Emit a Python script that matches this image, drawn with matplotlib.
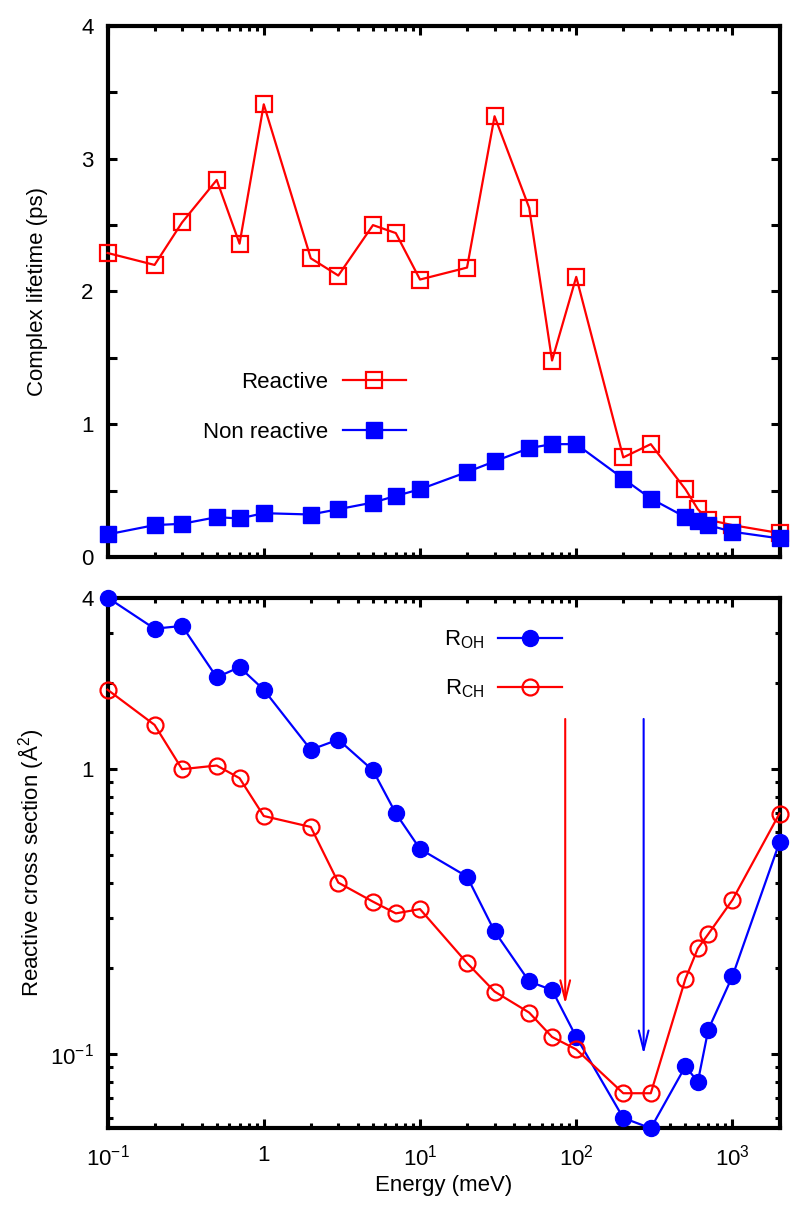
import matplotlib
matplotlib.use('Agg')
import matplotlib.pyplot as plt
from matplotlib.ticker import FixedLocator, NullFormatter, FixedFormatter, MultipleLocator, LogLocator

plt.rcParams['font.family'] = ['Liberation Sans', 'DejaVu Sans']
plt.rcParams['mathtext.fontset'] = 'custom'
plt.rcParams['mathtext.rm'] = 'Liberation Sans'
plt.rcParams['mathtext.it'] = 'Liberation Sans:italic'
plt.rcParams['mathtext.bf'] = 'Liberation Sans:bold'
plt.rcParams['mathtext.default'] = 'regular'

# ---------------- data ----------------
energy = [0.1, 0.2, 0.3, 0.5, 0.7, 1, 2, 3, 5, 7, 10, 20, 30, 50, 70, 100,
          200, 300, 500, 600, 700, 1000, 2000]
lifetime_reactive = [2.29, 2.20, 2.52, 2.84, 2.36, 3.41, 2.25, 2.12, 2.50, 2.44,
                     2.09, 2.18, 3.32, 2.63, 1.48, 2.11, 0.75, 0.85, 0.51, 0.36,
                     0.28, 0.24, 0.18]
lifetime_nonreactive = [0.17, 0.24, 0.25, 0.30, 0.29, 0.33, 0.32, 0.36, 0.41, 0.46,
                        0.51, 0.64, 0.72, 0.82, 0.85, 0.85, 0.59, 0.44, 0.30, 0.27,
                        0.24, 0.19, 0.14]
sigma_oh = [4.0, 3.11, 3.18, 2.10, 2.28, 1.90, 1.17, 1.27, 0.99, 0.70, 0.525,
            0.42, 0.27, 0.18, 0.168, 0.115, 0.0598, 0.055, 0.0908, 0.080, 0.122,
            0.188, 0.554]
sigma_ch = [1.90, 1.43, 1.00, 1.03, 0.93, 0.685, 0.627, 0.40, 0.343, 0.312,
            0.323, 0.209, 0.166, 0.140, 0.115, 0.104, 0.073, 0.073, 0.184, 0.235,
            0.264, 0.348, 0.699]
arrow_energy = [85, 270]
arrow_top = [1.5, 1.5]
arrow_tip = [0.15, 0.1]
arrow_colors = ['#ff0000', '#0000ff']

x_ticks = [0.1, 1, 10, 100, 1000]
x_ticklabels = ['10$^{-1}$', '1', '10$^{1}$', '10$^{2}$', '10$^{3}$']
y1_ticks = [0, 1, 2, 3, 4]
y1_ticklabels = ['0', '1', '2', '3', '4']
y2_ticks = [0.1, 1, 4]
y2_ticklabels = ['10$^{-1}$', '1', '4']

RED = '#ff0000'
BLUE = '#0000ff'
FS = 16
TFS = 16

fig = plt.figure(figsize=(8, 12.14), dpi=100)
ax1 = fig.add_axes([0.1344, 0.5412, 0.84, 0.4374])
ax2 = fig.add_axes([0.1344, 0.0706, 0.84, 0.4372])

for ax in (ax1, ax2):
    ax.set_xscale('log')
    ax.set_xlim(0.1, 2000)
    for s in ax.spines.values():
        s.set_linewidth(3.0)
    ax.xaxis.set_major_locator(FixedLocator(x_ticks))
    ax.xaxis.set_minor_locator(LogLocator(base=10, subs=[2, 3, 4, 5, 6, 7, 8, 9], numticks=20))
    ax.xaxis.set_minor_formatter(NullFormatter())
    ax.tick_params(which='both', direction='in', top=True, right=True, width=2.2,
                   labelsize=TFS)
    ax.tick_params(axis='x', which='both', pad=12)
    ax.tick_params(axis='y', which='both', pad=10)
    ax.tick_params(which='major', length=6.5)
    ax.tick_params(which='minor', length=3.3)

# ---------------- top panel ----------------
l1, = ax1.plot(energy, lifetime_reactive, color=RED, lw=1.6, marker='s', ms=11.5,
               mfc='none', mec=RED, mew=1.6, clip_on=False, zorder=5)
l2, = ax1.plot(energy, lifetime_nonreactive, color=BLUE, lw=1.6, marker='s', ms=11.5,
               mfc=BLUE, mec=BLUE, clip_on=False, zorder=5)
ax1.set_ylim(0, 4)
ax1.yaxis.set_major_locator(FixedLocator(y1_ticks))
ax1.yaxis.set_major_formatter(FixedFormatter(y1_ticklabels))
ax1.yaxis.set_minor_locator(MultipleLocator(0.5))
ax1.tick_params(axis='y', which='minor', length=6.5)
ax1.xaxis.set_major_formatter(NullFormatter())
ax1.set_ylabel('Complex lifetime (ps)', fontsize=FS)
ax1.yaxis.set_label_coords(-0.089, 0.5)
ax1.legend([l1, l2], ['Reactive', 'Non reactive'], markerfirst=False, frameon=False,
           loc='center', bbox_to_anchor=(0.293, 0.282), handlelength=2.85,
           handletextpad=0.65, labelspacing=1.3, fontsize=FS)

# ---------------- bottom panel ----------------
l3, = ax2.plot(energy, sigma_oh, color=BLUE, lw=1.6, marker='o', ms=11.5,
               mfc=BLUE, mec=BLUE, clip_on=False, zorder=5)
l4, = ax2.plot(energy, sigma_ch, color=RED, lw=1.6, marker='o', ms=11.5,
               mfc='none', mec=RED, mew=1.6, clip_on=False, zorder=5)
ax2.set_yscale('log')
ax2.set_ylim(0.055, 4)
ax2.yaxis.set_major_locator(FixedLocator(y2_ticks))
ax2.yaxis.set_major_formatter(FixedFormatter(y2_ticklabels))
ax2.yaxis.set_minor_locator(LogLocator(base=10, subs=[2, 3, 4, 5, 6, 7, 8, 9], numticks=20))
ax2.yaxis.set_minor_formatter(NullFormatter())
ax2.xaxis.set_major_formatter(FixedFormatter(x_ticklabels))
ax2.set_xlabel('Energy (meV)', fontsize=FS, labelpad=3)
ax2.set_ylabel('Reactive cross section (Å$^{2}$)', fontsize=FS)
ax2.yaxis.set_label_coords(-0.091, 0.5)
ax2.legend([l3, l4], ['R$_{\\mathrm{OH}}$', 'R$_{\\mathrm{CH}}$'], markerfirst=False,
           frameon=False, loc='center', bbox_to_anchor=(0.588, 0.874), handlelength=2.85,
           handletextpad=0.65, labelspacing=1.2, fontsize=FS)

for xe, yt, yb, c in zip(arrow_energy, arrow_top, arrow_tip, arrow_colors):
    ax2.annotate('', xy=(xe, yb), xytext=(xe, yt),
                 arrowprops=dict(arrowstyle='->,head_length=1.4,head_width=0.35',
                                 color=c, lw=1.5, shrinkA=0, shrinkB=0,
                                 mutation_scale=10))

fig.savefig('out.png', dpi=100)
